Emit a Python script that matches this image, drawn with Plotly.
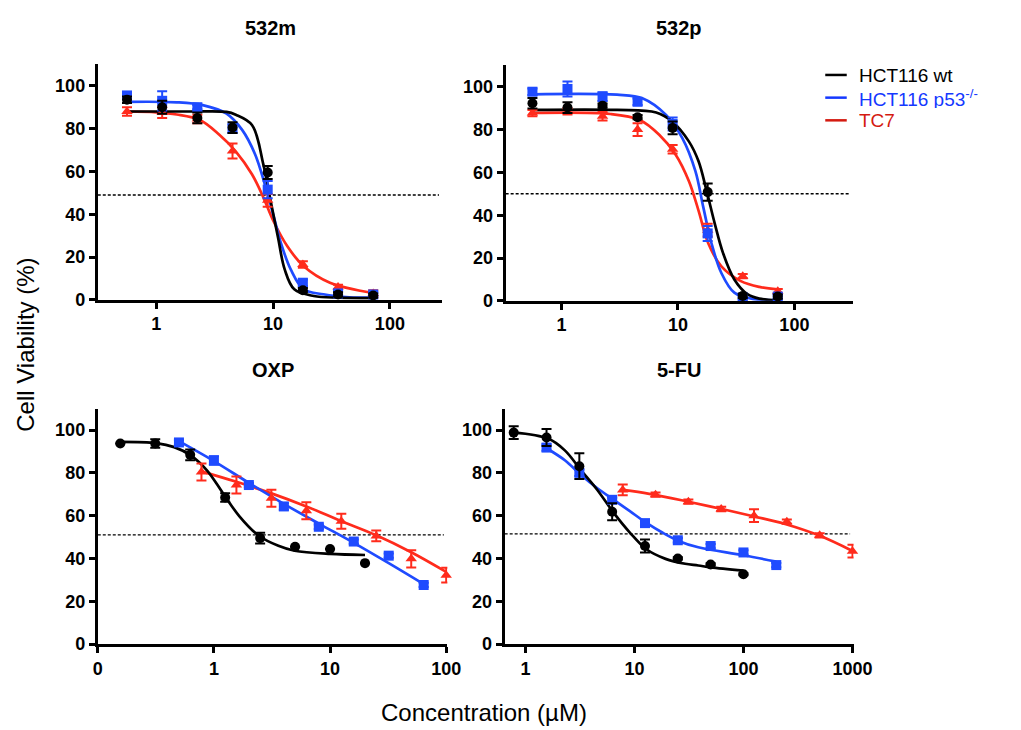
import plotly.graph_objects as go

# ---------------- data ----------------
panel_titles = ["532m", "532p", "OXP", "5-FU"]
series_names = ["HCT116 wt", "HCT116 p53<sup>-/-</sup>", "TC7"]
ic50_line = [49, 50, 51, 51.5]

# 532m
m_conc = [0.5625, 1.125, 2.25, 4.5, 9, 18, 36, 72]
m_wt = [93.5, 90, 85, 80.5, 59.5, 4.5, 2.5, 2]
m_wt_err = [1.5, 3, 2.5, 2.5, 3, 1, 1, 1]
m_p53 = [95.5, 93, 90, 80, 51.5, 8, 3, 2.5]
m_p53_err = [1.5, 4.5, 1, 2, 4, 1.5, 1, 1]
m_tc7 = [88, 87.5, 84.5, 69.5, 46.5, 16.5, 6, 3]
m_tc7_err = [2, 2.5, 2, 3.5, 3, 1.5, 1, 1.5]
m_wt_fit_x = [0.5625, 2, 4, 4.8, 6.6, 8.26, 9.4, 11, 12.6, 15.2, 22.3, 36, 72]
m_wt_fit_y = [88, 88, 87.8, 86.5, 81.7, 63.3, 47.9, 29.5, 14.1, 4.9, 1.8, 1.0, 0.8]
m_p53_fit_x = [0.5625, 1.5, 2.5, 3.97, 5.44, 7.03, 8.5, 10, 11.7, 14.2, 18.3, 27, 45, 72]
m_p53_fit_y = [92.5, 92.3, 91, 87.1, 79.4, 67.9, 54, 40.2, 26.4, 14.1, 4.9, 2.6, 1.2, 1.0]
m_tc7_fit_x = [0.5625, 1, 1.5, 2.37, 3.47, 4.79, 6.6, 8.26, 10, 13.3, 18.3, 30.7, 72]
m_tc7_fit_y = [88, 87.6, 86.6, 84, 77.1, 69.4, 58.7, 47.9, 37.2, 24.9, 15.7, 8, 3.2]

# 532p
p_conc = [0.5625, 1.125, 2.25, 4.5, 9, 18, 36, 72]
p_wt = [92.3, 90.3, 91.2, 85.8, 80.8, 50.8, 2.3, 2]
p_wt_err = [2.5, 2.5, 1, 1, 3, 4, 1, 1]
p_p53 = [97.7, 99, 95.4, 93, 82.6, 31.5, 1.5, 2]
p_p53_err = [1.5, 3.5, 2, 1.5, 3, 3.5, 1, 1]
p_tc7 = [87.7, 88.5, 86.2, 80, 70.8, 33, 11.5, 4.5]
p_tc7_err = [1.5, 1.5, 2, 3, 2, 3, 1, 1]
p_wt_fit_x = [0.5625, 3, 6.5, 8.96, 12.4, 15, 17.6, 20.7, 24.4, 30.5, 39.5, 50, 72]
p_wt_fit_y = [89.2, 89.2, 88, 83.7, 74.5, 65.3, 51.5, 36.1, 22.3, 10, 3.1, 1, 0.3]
p_p53_fit_x = [0.5625, 3, 5, 7.9, 10.9, 14.1, 16.5, 19.4, 23.6, 30.5, 45, 72]
p_p53_fit_y = [96.5, 96.3, 94.5, 86.8, 76, 60.7, 43.8, 26.9, 13, 3.8, 0.8, 0.3]
p_tc7_fit_x = [0.5625, 2.63, 4.7, 6.9, 9.56, 12.4, 15, 18.2, 23.6, 34.7, 50, 72]
p_tc7_fit_y = [87.8, 87.3, 84.5, 77.6, 68.3, 56, 42.3, 26.9, 16.1, 9.2, 6.5, 5.4]

# OXP
o_wt_conc = [0.15625, 0.3125, 0.625, 1.25, 2.5, 5, 10, 20]
o_wt = [93.7, 93.7, 88.4, 68.5, 49.5, 45.5, 44.4, 37.8]
o_wt_err = [0, 2, 2.5, 2, 2.5, 0, 0, 0]
o_p53_conc = [0.5, 1, 2, 4, 8, 16, 32, 64]
o_p53 = [94.2, 85.8, 74.3, 64.3, 54.8, 47.9, 41.3, 27.6]
o_p53_err = [1, 2, 1, 1.5, 1, 1, 1, 1]
o_tc7_conc = [0.78125, 1.5625, 3.125, 6.25, 12.5, 25, 50, 100]
o_tc7 = [80.4, 74.3, 68.1, 62.3, 57.4, 50.5, 39.8, 32.2]
o_tc7_err = [4, 4, 4, 4, 3.5, 2.5, 4, 3.5]
o_wt_fit_x = [0.158, 0.319, 0.455, 0.631, 0.871, 1.197, 1.652, 2.438, 3.59, 4.95, 10, 20]
o_wt_fit_y = [94.5, 93.9, 92, 88.2, 81.2, 70.5, 59.8, 50.6, 45.9, 43.6, 42.1, 41.6]
o_p53_fit_x = [0.5, 1, 2, 4, 8, 16, 32, 64]
o_p53_fit_y = [94.8, 85.5, 75.3, 65.5, 56.3, 47.3, 37.8, 28]
o_tc7_fit_x = [0.78125, 1.5625, 3.125, 6.25, 12.5, 25, 50, 100]
o_tc7_fit_y = [80.7, 75.8, 70.4, 64.3, 57.4, 50.8, 42.9, 33.7]

# 5-FU
f_wt_conc = [0.78125, 1.5625, 3.125, 6.25, 12.5, 25, 50, 100]
f_wt = [98.8, 96.5, 83.1, 61.8, 45.8, 40, 37.2, 32.6]
f_wt_err = [3, 4, 6, 4, 3, 0.5, 0.5, 0.5]
f_p53_conc = [1.5625, 3.125, 6.25, 12.5, 25, 50, 100, 200]
f_p53 = [91.8, 80, 67.4, 56.5, 48.5, 45.8, 42.8, 36.9]
f_p53_err = [1.5, 1.5, 1, 1, 1, 1, 1, 1]
f_tc7_conc = [7.8125, 15.625, 31.25, 62.5, 125, 250, 500, 1000]
f_tc7 = [72, 69.8, 66.5, 63.1, 60, 57.2, 50.8, 43.4]
f_tc7_err = [2.5, 1, 1, 1, 3, 1, 1, 3]
f_wt_fit_x = [0.78, 1.63, 2.3, 3.24, 4.57, 6.46, 9.08, 12.8, 19.3, 29.2, 38.5, 50, 100]
f_wt_fit_y = [98.9, 95.9, 90.5, 81.2, 72, 61.3, 52.1, 44.4, 39.8, 37.5, 36.7, 35.8, 34.3]
f_p53_fit_x = [1.5625, 2.3, 3.24, 4.57, 6.46, 9.08, 12.8, 18.0, 25.4, 38.5, 100, 200]
f_p53_fit_y = [91.5, 85.9, 79, 72.8, 67.4, 62.1, 56.7, 52.1, 48.2, 45.2, 41.5, 38.5]
f_tc7_fit_x = [7.8125, 13.7, 31.3, 62, 123, 245, 490, 1000]
f_tc7_fit_y = [72, 70.2, 66.5, 63.2, 59.7, 56, 50.8, 43.5]

# ---------------- styling ----------------
BLACK = "#000000"
BLUE = "#1f4bff"
RED = "#ff2b1c"
colors = [BLACK, BLUE, RED]
symbols = ["circle", "square", "triangle-up"]
FONT = "Liberation Sans, Arial, Helvetica, sans-serif"

panels = [
    [(m_conc, m_wt, m_wt_err, m_wt_fit_x, m_wt_fit_y),
     (m_conc, m_p53, m_p53_err, m_p53_fit_x, m_p53_fit_y),
     (m_conc, m_tc7, m_tc7_err, m_tc7_fit_x, m_tc7_fit_y)],
    [(p_conc, p_wt, p_wt_err, p_wt_fit_x, p_wt_fit_y),
     (p_conc, p_p53, p_p53_err, p_p53_fit_x, p_p53_fit_y),
     (p_conc, p_tc7, p_tc7_err, p_tc7_fit_x, p_tc7_fit_y)],
    [(o_wt_conc, o_wt, o_wt_err, o_wt_fit_x, o_wt_fit_y),
     (o_p53_conc, o_p53, o_p53_err, o_p53_fit_x, o_p53_fit_y),
     (o_tc7_conc, o_tc7, o_tc7_err, o_tc7_fit_x, o_tc7_fit_y)],
    [(f_wt_conc, f_wt, f_wt_err, f_wt_fit_x, f_wt_fit_y),
     (f_p53_conc, f_p53, f_p53_err, f_p53_fit_x, f_p53_fit_y),
     (f_tc7_conc, f_tc7, f_tc7_err, f_tc7_fit_x, f_tc7_fit_y)],
]

W, H = 1021, 730
# pixel geometry of each panel: (left, right, bottom(0), top(110))
geom = [
    (95, 448, 304, 65.3),
    (512.7, 868, 305, 66.3),
    (95, 453, 653, 414.3),
    (511.7, 869, 653, 414.3),
]
xranges = [[-0.5, 2.45], [-0.48, 2.5], [-1.0, 2.01], [-0.19, 3.01]]
xtickvals = [[1, 10, 100], [1, 10, 100], [0.1, 1, 10, 100], [1, 10, 100, 1000]]
xticktext = [["1", "10", "100"], ["1", "10", "100"], ["0", "1", "10", "100"],
             ["1", "10", "100", "1000"]]

fig = go.Figure()
order = [2, 1, 0]  # draw red, blue, then black on top
for pi, panel in enumerate(panels):
    xa = "x" if pi == 0 else f"x{pi+1}"
    ya = "y" if pi == 0 else f"y{pi+1}"
    for si in order:
        cx, cy, ce, fx, fy = panel[si]
        fig.add_trace(go.Scatter(
            x=fx, y=fy, mode="lines", xaxis=xa, yaxis=ya,
            line=dict(color=colors[si], width=2.7, shape="spline", smoothing=1.0),
            showlegend=False, hoverinfo="skip"))
    for si in order:
        cx, cy, ce, fx, fy = panel[si]
        fig.add_trace(go.Scatter(
            x=cx, y=cy, mode="markers", xaxis=xa, yaxis=ya,
            marker=dict(color=colors[si], symbol=symbols[si], size=10,
                        line=dict(width=0)),
            error_y=dict(type="data", array=ce, color=colors[si],
                         thickness=2, width=5),
            showlegend=False, cliponaxis=False))

axis_common = dict(showgrid=False, zeroline=False, showline=True,
                   linecolor="black", linewidth=3, ticks="outside",
                   ticklen=6, tickwidth=2.5, tickcolor="black",
                   tickfont=dict(family=FONT, size=18, color="black", weight="bold"))

layout = dict(width=W, height=H, margin=dict(l=0, r=0, t=0, b=0),
              plot_bgcolor="white", paper_bgcolor="white", showlegend=False)
shapes = []
annotations = []
for pi in range(4):
    l, r, b, t = geom[pi]
    xk = "xaxis" if pi == 0 else f"xaxis{pi+1}"
    yk = "yaxis" if pi == 0 else f"yaxis{pi+1}"
    xa = "x" if pi == 0 else f"x{pi+1}"
    ya = "y" if pi == 0 else f"y{pi+1}"
    layout[xk] = dict(axis_common, type="log", range=xranges[pi],
                      domain=[l / W, r / W], anchor=ya,
                      tickvals=xtickvals[pi], ticktext=xticktext[pi])
    layout[yk] = dict(axis_common, range=[0, 110],
                      domain=[(H - b) / H, (H - t) / H], anchor=xa,
                      tickvals=[0, 20, 40, 60, 80, 100])
    shapes.append(dict(type="line", xref=f"{xa} domain", yref=ya,
                       x0=0, x1=0.99, y0=ic50_line[pi], y1=ic50_line[pi],
                       line=dict(color="black", width=1.4, dash="3px,2px"),
                       layer="below"))
    annotations.append(dict(text=f"<b>{panel_titles[pi]}</b>", xref="paper", yref="paper",
                            x=(l + r) / 2 / W, y=(H - (28 if pi < 2 else 375)) / H,
                            xanchor="center", yanchor="middle", showarrow=False,
                            font=dict(family=FONT, size=20, color="black")))

# axis titles
annotations.append(dict(text="Cell Viability (%)", xref="paper", yref="paper",
                        x=21 / W, y=(H - 350) / H, textangle=-90, showarrow=False,
                        xanchor="center", yanchor="middle",
                        font=dict(family=FONT, size=24, color="black")))
annotations.append(dict(text="Concentration (µM)", xref="paper", yref="paper",
                        x=491 / W, y=(H - 722) / H, showarrow=False,
                        xanchor="center", yanchor="middle",
                        font=dict(family=FONT, size=24, color="black")))

# legend
legend_colors = ["#000000", "#1438ff", "#d41a10"]
legend_y = [76, 99, 122]
for i, name in enumerate(series_names):
    shapes.append(dict(type="line", xref="paper", yref="paper",
                       x0=840 / W, x1=862 / W, y0=(H - legend_y[i]) / H,
                       y1=(H - legend_y[i]) / H,
                       line=dict(color=legend_colors[i], width=2.5)))
    annotations.append(dict(text=name, xref="paper", yref="paper",
                            x=872 / W, y=(H - legend_y[i]) / H, showarrow=False,
                            xanchor="left", yanchor="middle", height=20,
                            font=dict(family=FONT, size=19, color=legend_colors[i])))

layout["shapes"] = shapes
layout["annotations"] = annotations
fig.update_layout(**layout)
fig.write_html("out.html")
